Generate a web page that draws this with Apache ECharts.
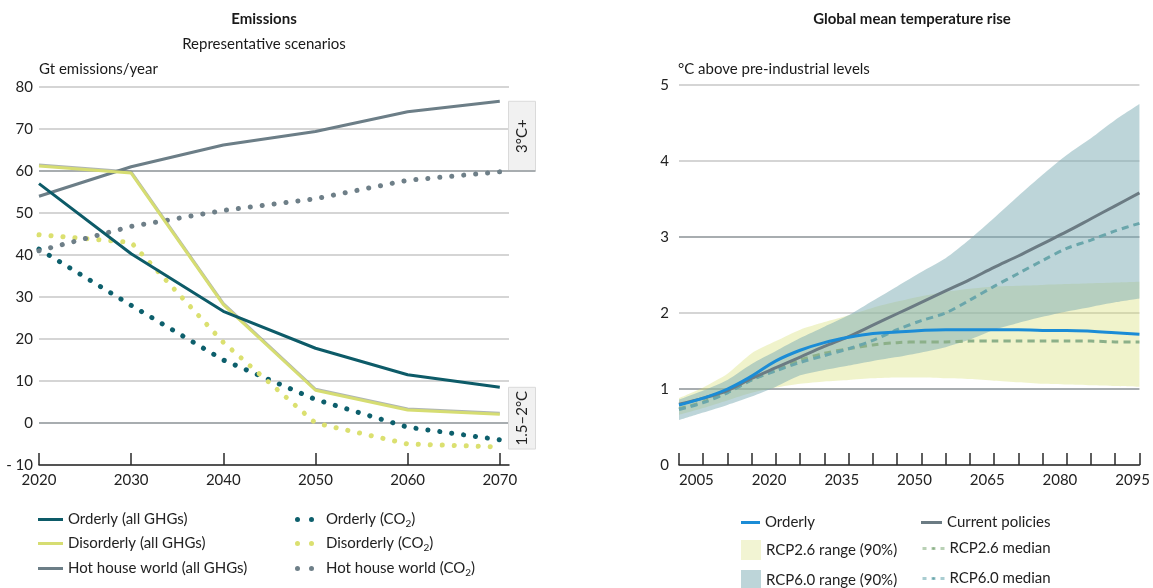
<!DOCTYPE html>
<html>
<head>
<meta charset="utf-8">
<script src="https://cdn.jsdelivr.net/npm/echarts@6/dist/echarts.min.js"></script>
<style>
  html, body { margin: 0; padding: 0; background: #fff; }
  #c { width: 1153px; height: 588px; }
</style>
</head>
<body>
<div id="c"></div>
<script>
// ---- Emissions (Gt emissions/year), representative scenarios ----
const emYears = [2020, 2030, 2040, 2050, 2060, 2070];
const emTickYears = [2020, 2030, 2040, 2050, 2060, 2070];
const orderlyGhg = [57.0, 40.3, 26.6, 17.8, 11.5, 8.5];
const disorderlyGhg = [61.2, 59.5, 28.2, 7.8, 3.1, 2.1];
const hotHouseGhg = [54.0, 61.0, 66.2, 69.4, 74.1, 76.6];
const orderlyCo2 = [41.4, 28.0, 15.0, 5.6, -1.0, -4.0];
const disorderlyCo2 = [44.8, 43.0, 19.2, 0.0, -5.0, -5.7];
const hotHouseCo2 = [41.0, 46.8, 50.6, 53.4, 57.8, 59.8];
// temperature outcome tags beside the emissions plot: [label, from, to]
const outcomeTags = [['3°C+', 60, 76.6], ['1.5–2°C', -6.2, 8.5]];

// ---- Global mean temperature rise (°C above pre-industrial levels) ----
const tYears = ['2005', '2010', '2015', '2020', '2025', '2030', '2035', '2040', '2045', '2050',
                '2055', '2060', '2065', '2070', '2075', '2080', '2085', '2090', '2095', '2100'];
const orderlyT = [0.79, 0.88, 1.00, 1.17, 1.37, 1.51, 1.61, 1.68, 1.73, 1.75,
                  1.77, 1.78, 1.78, 1.78, 1.78, 1.77, 1.77, 1.76, 1.74, 1.72];
const currentT = [0.80, 0.88, 0.98, 1.14, 1.28, 1.42, 1.56, 1.69, 1.84, 1.99,
                  2.14, 2.29, 2.44, 2.60, 2.75, 2.91, 3.07, 3.24, 3.41, 3.58];
const rcp26Median = [0.74, 0.83, 0.96, 1.12, 1.25, 1.38, 1.47, 1.53, 1.58, 1.61,
                     1.62, 1.62, 1.63, 1.63, 1.63, 1.63, 1.63, 1.63, 1.62, 1.62];
const rcp60Median = [0.73, 0.82, 0.95, 1.12, 1.24, 1.35, 1.44, 1.53, 1.64, 1.78,
                     1.90, 2.00, 2.17, 2.35, 2.52, 2.69, 2.85, 2.96, 3.08, 3.18];
const rcp26Low = [0.66, 0.75, 0.85, 0.95, 1.02, 1.07, 1.10, 1.12, 1.14, 1.15,
                  1.15, 1.14, 1.13, 1.11, 1.09, 1.07, 1.06, 1.05, 1.04, 1.03];
const rcp26High = [0.88, 1.02, 1.20, 1.47, 1.63, 1.78, 1.88, 1.97, 2.07, 2.15,
                   2.22, 2.28, 2.32, 2.35, 2.36, 2.37, 2.38, 2.39, 2.40, 2.41];
const rcp60Low = [0.59, 0.69, 0.79, 0.90, 1.03, 1.18, 1.25, 1.31, 1.37, 1.42,
                  1.48, 1.55, 1.65, 1.78, 1.87, 1.95, 2.02, 2.08, 2.14, 2.19];
const rcp60High = [0.86, 0.98, 1.12, 1.33, 1.50, 1.67, 1.82, 1.97, 2.16, 2.35,
                   2.54, 2.72, 2.97, 3.25, 3.54, 3.82, 4.08, 4.30, 4.54, 4.75];

const FONT = 'Lato';
const TEXT = '#222';
const GRID_LIGHT = '#d5d5d5';
const GRID_DARK = '#a8adb0';
const AXIS = '#2a2a2a';

const pairs = (xs, ys) => xs.map((x, i) => [x, ys[i]]);
const spread = (hi, lo) => hi.map((v, i) => +(v - lo[i]).toFixed(3));

const dotted = (color) => ({ color, width: 5, type: [0.1, 11.9], cap: 'round' });

const co2Label = (name) => name.replace('CO2', 'CO{sub|2}');
const legendText = {
  fontFamily: FONT, fontSize: 15, color: TEXT,
  rich: { sub: { fontFamily: FONT, fontSize: 10, color: TEXT, padding: [8, 0, 0, 0] } }
};

// one legend block per entry so each icon can have its own size
const legendSpecs = [
  { name: 'Orderly (all GHGs)', left: 38, cy: 521, w: 25, h: 3, icon: 'rect' },
  { name: 'Disorderly (all GHGs)', left: 38, cy: 545, w: 25, h: 3, icon: 'rect' },
  { name: 'Hot house world (all GHGs)', left: 38, cy: 570, w: 25, h: 3, icon: 'rect' },
  { name: 'Orderly (CO2)', left: 295, cy: 521, w: 19, h: 5, dots: true },
  { name: 'Disorderly (CO2)', left: 295, cy: 545, w: 19, h: 5, dots: true },
  { name: 'Hot house world (CO2)', left: 295, cy: 570, w: 19, h: 5, dots: true },
  { name: 'Orderly', left: 741, cy: 524, w: 19, h: 3, icon: 'rect' },
  { name: 'RCP2.6 range (90%)', left: 741, cy: 550, w: 20, h: 20, icon: 'rect', fill: '#f2f4d3' },
  { name: 'RCP6.0 range (90%)', left: 741, cy: 580, w: 20, h: 20, icon: 'rect', fill: '#bdd5d9' },
  { name: 'Current policies', left: 921, cy: 524, w: 21, h: 3, icon: 'rect' },
  { name: 'RCP2.6 median', left: 921, cy: 550, w: 22, h: 3, dash: '#b9d1b5' },
  { name: 'RCP6.0 median', left: 921, cy: 580, w: 22, h: 3, dash: '#a9cdd1' }
];
const twoDots = 'path://M2.5,0A2.5,2.5,0,1,1,2.5,5A2.5,2.5,0,1,1,2.5,0ZM16.5,0A2.5,2.5,0,1,1,16.5,5A2.5,2.5,0,1,1,16.5,0Z';

const legends = legendSpecs.map((s) => {
  const item = { name: s.name };
  if (s.icon) item.icon = s.icon;
  if (s.dots) item.icon = twoDots;
  if (s.fill) item.itemStyle = { color: s.fill };
  if (s.dash) item.lineStyle = { color: s.dash, type: [4, 5], width: 3 };
  return {
    data: [item],
    left: s.left,
    top: s.cy - Math.max(s.h, 18) / 2,
    itemWidth: s.w,
    itemHeight: s.h,
    padding: 0,
    selectedMode: false,
    formatter: co2Label,
    textStyle: Object.assign({}, legendText, s.dots ? { padding: [0, 0, 0, 7] } : {})
  };
});

const titleStyle = (bold) => ({
  fontFamily: FONT, fontSize: 15, color: '#1a1a1a', fontWeight: bold ? 'bold' : 'normal'
});

const tSeries = (extra) => Object.assign({ type: 'line', xAxisIndex: 1, yAxisIndex: 1, symbol: 'none' }, extra);

const option = {
  animation: false,
  backgroundColor: '#fff',
  textStyle: { fontFamily: FONT },
  title: [
    { text: 'Emissions', left: 264, top: 12, textAlign: 'center', padding: 0, textStyle: titleStyle(true) },
    { text: 'Representative scenarios', left: 264, top: 37, textAlign: 'center', padding: 0, textStyle: titleStyle(false) },
    { text: 'Gt emissions/year', left: 39, top: 62, padding: 0, textStyle: titleStyle(false) },
    { text: 'Global mean temperature rise', left: 912, top: 12, textAlign: 'center', padding: 0, textStyle: titleStyle(true) },
    { text: '°C above pre-industrial levels', left: 678, top: 62, padding: 0, textStyle: titleStyle(false) }
  ],
  legend: legends,
  grid: [
    { left: 39, top: 87, width: 470, height: 378, containLabel: false },
    { left: 679, top: 85, width: 468, height: 380, containLabel: false }
  ],
  xAxis: [
    {
      gridIndex: 0, type: 'value', min: 2020, max: 2071, interval: 10,
      axisLine: { show: true, onZero: false, lineStyle: { color: AXIS, width: 1.5 } },
      axisTick: { show: true, inside: true, length: 12, customValues: emTickYears,
                  lineStyle: { color: AXIS, width: 1.5 } },
      axisLabel: { customValues: emTickYears, margin: 8, fontFamily: FONT, fontSize: 15, color: TEXT,
                   formatter: (v) => String(v) },
      splitLine: { show: false }
    },
    {
      gridIndex: 1, type: 'category', data: tYears, boundaryGap: false,
      axisLine: { show: true, onZero: false, lineStyle: { color: AXIS, width: 1.5 } },
      axisTick: { show: true, inside: true, length: 12, interval: 0, lineStyle: { color: AXIS, width: 1.5 } },
      axisLabel: { interval: 2, align: 'left', margin: 8, fontFamily: FONT, fontSize: 15, color: TEXT },
      splitLine: { show: false }
    }
  ],
  yAxis: [
    {
      gridIndex: 0, type: 'value', min: -10, max: 80, interval: 10,
      axisLine: { show: false }, axisTick: { show: false },
      axisLabel: { margin: 6, fontFamily: FONT, fontSize: 15, color: TEXT,
                   formatter: (v) => (v < 0 ? '- ' + Math.abs(v) : String(v)) },
      splitLine: { show: true, lineStyle: { width: 2,
        color: [GRID_LIGHT, GRID_DARK, GRID_LIGHT, GRID_LIGHT, GRID_LIGHT,
                GRID_LIGHT, GRID_LIGHT, GRID_DARK, GRID_LIGHT, GRID_LIGHT] } }
    },
    {
      gridIndex: 1, type: 'value', min: 0, max: 5, interval: 1,
      axisLine: { show: false }, axisTick: { show: false },
      axisLabel: { margin: 10, fontFamily: FONT, fontSize: 15, color: TEXT },
      splitLine: { show: true, lineStyle: { width: 2,
        color: [GRID_LIGHT, GRID_DARK, GRID_LIGHT, GRID_DARK, GRID_LIGHT, GRID_LIGHT] } }
    }
  ],
  series: [
    // emissions: CO2 only (dotted)
    { name: 'Orderly (CO2)', type: 'line', xAxisIndex: 0, yAxisIndex: 0, symbol: 'none',
      data: pairs(emYears, orderlyCo2), color: '#0d5f6c', lineStyle: dotted('#0d5f6c') },
    { name: 'Disorderly (CO2)', type: 'line', xAxisIndex: 0, yAxisIndex: 0, symbol: 'none',
      data: pairs(emYears, disorderlyCo2), color: '#dbe070', lineStyle: dotted('#dbe070') },
    { name: 'Hot house world (CO2)', type: 'line', xAxisIndex: 0, yAxisIndex: 0, symbol: 'none',
      data: pairs(emYears, hotHouseCo2), color: '#6e7f88', lineStyle: dotted('#6e7f88') },
    // emissions: all greenhouse gases (solid)
    { name: 'Hot house world (all GHGs)', type: 'line', xAxisIndex: 0, yAxisIndex: 0, symbol: 'none',
      data: pairs(emYears, hotHouseGhg), color: '#6c7e87', lineStyle: { color: '#6c7e87', width: 3 } },
    { name: 'Disorderly (all GHGs)', type: 'line', xAxisIndex: 0, yAxisIndex: 0, symbol: 'none',
      data: pairs(emYears, disorderlyGhg), color: '#d6dd72',
      lineStyle: { color: '#d6dd72', width: 3, shadowColor: 'rgba(110,120,120,0.55)', shadowOffsetY: -1, shadowBlur: 0 } },
    { name: 'Orderly (all GHGs)', type: 'line', xAxisIndex: 0, yAxisIndex: 0, symbol: 'none',
      data: pairs(emYears, orderlyGhg), color: '#0d5b68', lineStyle: { color: '#0d5b68', width: 3 } },

    // temperature: 90% ranges as stacked bands (lower bound + spread)
    tSeries({ name: 'rcp26-low', stack: 'rcp26', silent: true, smooth: 0.2,
              data: rcp26Low, lineStyle: { width: 0, opacity: 0 } }),
    tSeries({ name: 'RCP2.6 range (90%)', stack: 'rcp26', silent: true, smooth: 0.2,
              data: spread(rcp26High, rcp26Low), color: '#f2f4d3',
              lineStyle: { width: 0, opacity: 0 }, areaStyle: { color: 'rgba(214,222,110,0.36)', opacity: 1 } }),
    tSeries({ name: 'rcp60-low', stack: 'rcp60', silent: true, smooth: 0.2,
              data: rcp60Low, lineStyle: { width: 0, opacity: 0 } }),
    tSeries({ name: 'RCP6.0 range (90%)', stack: 'rcp60', silent: true, smooth: 0.2,
              data: spread(rcp60High, rcp60Low), color: '#bdd5d9',
              lineStyle: { width: 0, opacity: 0 }, areaStyle: { color: 'rgba(123,171,179,0.5)', opacity: 1 } }),

    // temperature: medians and scenarios
    tSeries({ name: 'RCP2.6 median', smooth: 0.3, data: rcp26Median, color: '#8cb089',
              lineStyle: { color: '#8cb089', width: 3, type: [7, 5] } }),
    tSeries({ name: 'RCP6.0 median', smooth: 0.3, data: rcp60Median, color: '#6aa6ab',
              lineStyle: { color: '#6aa6ab', width: 3, type: [7, 5] } }),
    tSeries({ name: 'Current policies', smooth: 0.3, data: currentT, color: '#6b7b83',
              lineStyle: { color: '#6b7b83', width: 3 } }),
    tSeries({ name: 'Orderly', smooth: 0.4, data: orderlyT, color: '#1b8cd6',
              lineStyle: { color: '#1b8cd6', width: 3 } })
  ]
};

const chart = echarts.init(document.getElementById('c'), null, { renderer: 'canvas' });
chart.setOption(option);

// outcome tags: a grey box per scenario group, to the right of the plot
const tagWidth = 27;
const emXMax = 2071;
const tagGraphics = [];
outcomeTags.forEach(([label, from, to]) => {
  const [x0, yTop] = chart.convertToPixel({ xAxisIndex: 0, yAxisIndex: 0 }, [emXMax, to]);
  const yBot = chart.convertToPixel({ xAxisIndex: 0, yAxisIndex: 0 }, [emXMax, from])[1];
  tagGraphics.push({
    type: 'rect', z: 20,
    shape: { x: x0 - 0.5, y: yTop, width: tagWidth, height: yBot - yTop },
    style: { fill: '#f1f1f1', stroke: '#dadada', lineWidth: 1 }
  });
  tagGraphics.push({
    type: 'text', z: 21,
    x: x0 - 0.5 + tagWidth / 2, y: (yTop + yBot) / 2, rotation: Math.PI / 2,
    style: { text: label, align: 'center', verticalAlign: 'middle',
             fontFamily: FONT, fontSize: 15, fill: TEXT }
  });
});
// the 60 Gt gridline runs on under the upper tag
const y60 = chart.convertToPixel({ xAxisIndex: 0, yAxisIndex: 0 }, [emXMax, 60]);
tagGraphics.push({
  type: 'line', z: 22,
  shape: { x1: y60[0] - 1, y1: y60[1], x2: y60[0] - 0.5 + tagWidth, y2: y60[1] },
  style: { stroke: GRID_DARK, lineWidth: 2 }
});
chart.setOption({ graphic: tagGraphics });
</script>
</body>
</html>
